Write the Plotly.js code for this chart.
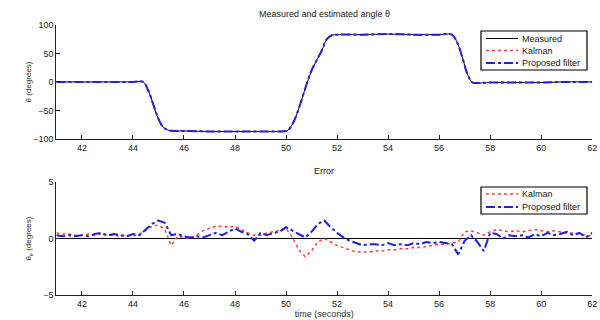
<!DOCTYPE html>
<html><head><meta charset="utf-8">
<script src="https://cdn.plot.ly/plotly-3.0.1.min.js"></script>
<style>html,body{margin:0;padding:0;background:#fff}#c{width:600px;height:320px}</style>
</head><body><div id="c"></div>
<script>
// Top panel: angle (degrees)
const tAngle = [41,42,43,44,44.4,44.6,44.8,45.0,45.2,45.4,45.6,46,47,48,49,50,50.1,50.3,50.55,50.8,51.0,51.2,51.4,51.6,51.8,52,53,54,55,56,56.5,56.7,56.9,57.1,57.3,57.5,58,59,60,61,62];
const angleMeasured = [0,0,0,0,0,-15,-40,-65,-80,-85,-86,-86,-87,-87,-87,-86,-84,-70,-40,-5,20,38,55,75,82,83,83,84,83,83,83,70,45,15,-1,-2,-1,-1,-1,0,0];
const angleKalman   = [0,0,0,0,0,-15,-40,-65,-80,-85,-86,-86,-87,-87,-87,-86,-84,-70,-40,-5,20,38,55,75,82,83,83,84,83,83,83,70,45,15,-1,-2,-1,-1,-1,0,0];
const angleProposed = [0,0,0,0,0,-15,-40,-65,-80,-85,-86,-86,-87,-87,-87,-86,-84,-70,-40,-5,20,38,55,75,82,83,83,84,83,83,83,70,45,15,-1,-2,-1,-1,-1,0,0];

// Bottom panel: error (degrees), sampled every 0.25 s from 41 to 62
const tError = [41,41.25,41.5,41.75,42,42.25,42.5,42.75,43,43.25,43.5,43.75,44,44.25,44.5,44.75,45,45.25,45.5,45.75,46,46.25,46.5,46.75,47,47.25,47.5,47.75,48,48.25,48.5,48.75,49,49.25,49.5,49.75,50,50.25,50.5,50.75,51,51.25,51.5,51.75,52,52.25,52.5,52.75,53,53.25,53.5,53.75,54,54.25,54.5,54.75,55,55.25,55.5,55.75,56,56.25,56.5,56.75,57,57.25,57.5,57.75,58,58.25,58.5,58.75,59,59.25,59.5,59.75,60,60.25,60.5,60.75,61,61.25,61.5,61.75,62];
const errKalman = [0.5,0.4,0.4,0.3,0.3,0.4,0.3,0.4,0.3,0.3,0.2,0.3,0.2,0.4,0.7,1.1,1.2,0.8,-0.6,0.2,0.1,0.0,0.3,0.7,0.9,1.1,1.1,1.0,1.1,0.8,0.5,0.3,0.3,0.5,0.6,0.7,0.9,0.1,-1.0,-1.6,-1.1,-0.3,0.0,-0.3,-0.6,-0.8,-1.0,-1.2,-1.2,-1.2,-1.1,-1.1,-1.0,-1.0,-0.9,-0.9,-0.8,-0.8,-0.7,-0.6,-0.5,-0.5,-0.4,-0.3,0.6,0.7,0.5,0.3,0.6,0.8,0.7,0.6,0.7,0.6,0.7,0.8,0.7,0.6,0.7,0.6,0.5,0.5,0.4,0.3,0.2];
const errProposed = [0.3,0.2,0.3,0.2,0.3,0.2,0.4,0.5,0.3,0.4,0.3,0.2,0.4,0.3,0.8,1.3,1.6,1.4,0.3,0.4,0.2,0.1,0.2,0.1,0.3,0.5,0.3,0.6,0.9,0.6,0.4,-0.2,0.5,0.3,0.5,0.6,1.0,0.7,0.4,0.1,0.6,1.3,1.6,1.0,0.5,0.1,-0.2,-0.4,-0.6,-0.5,-0.5,-0.6,-0.4,-0.6,-0.5,-0.6,-0.4,-0.5,-0.3,-0.4,-0.3,-0.4,-0.5,-1.4,-0.2,0.3,-0.3,-1.1,0.5,0.4,0.0,0.3,0.2,0.3,0.1,0.4,0.2,0.5,0.3,0.4,0.6,0.3,0.5,0.1,0.5];

const xTicks = [42,44,46,48,50,52,54,56,58,60,62];
const yTicksTop = [-100,-50,0,50,100];
const yTicksBottom = [-5,0,5];
const legendTop = ['Measured','Kalman','Proposed filter'];
const legendBottom = ['Kalman','Proposed filter'];

const FONT = 'Liberation Sans, Arial, sans-serif';
const styleMeasured = {color:'#000', width:1};
const styleKalman = {color:'#ff4040', width:1.5, dash:'dot'};
const styleProposed = {color:'#2020e0', width:2, dash:'dashdot'};

const traces = [
  {x:tAngle, y:angleMeasured, name:legendTop[0], mode:'lines', line:Object.assign({shape:'spline'}, styleMeasured), xaxis:'x', yaxis:'y'},
  {x:tAngle, y:angleKalman, name:legendTop[1], mode:'lines', line:Object.assign({shape:'spline'}, styleKalman), xaxis:'x', yaxis:'y'},
  {x:tAngle, y:angleProposed, name:legendTop[2], mode:'lines', line:Object.assign({shape:'spline'}, styleProposed), xaxis:'x', yaxis:'y'},
  {x:tError, y:errKalman, name:legendBottom[0], mode:'lines', line:styleKalman, xaxis:'x2', yaxis:'y2'},
  {x:tError, y:errProposed, name:legendBottom[1], mode:'lines', line:styleProposed, xaxis:'x2', yaxis:'y2'}
];

// compact MATLAB-style legend boxes (paper coordinates from pixel layout)
const px = v => v/600, py = v => 1 - v/320;
const shapes = [], annotations = [];
function addLegend(box, labels, styles, rowY) {
  shapes.push({type:'rect', xref:'paper', yref:'paper', x0:px(box[0]), x1:px(box[1]), y0:py(box[2]), y1:py(box[3]),
    line:{color:'#000', width:1.2}, fillcolor:'#fff', layer:'above'});
  labels.forEach((lab, i) => {
    shapes.push({type:'line', xref:'paper', yref:'paper', x0:px(box[0]+5), x1:px(box[0]+37), y0:py(rowY[i]), y1:py(rowY[i]),
      line:styles[i], layer:'above'});
    annotations.push({text:lab, xref:'paper', yref:'paper', x:px(box[0]+39), y:py(rowY[i]), xanchor:'left', yanchor:'middle',
      showarrow:false, font:{size:9, color:'#222', family:FONT}});
  });
}
addLegend([481,587,31,70], legendTop, [styleMeasured, styleKalman, styleProposed], [38.5,50.5,63]);
addLegend([481,587,187,214], legendBottom, [styleKalman, styleProposed], [194,207]);
annotations.push(
  {text:'Measured and estimated angle θ', xref:'paper', yref:'paper', x:0.54, y:py(14), xanchor:'center', yanchor:'middle', showarrow:false, font:{size:9, color:'#222'}},
  {text:'Error', xref:'paper', yref:'paper', x:0.54, y:py(171), xanchor:'center', yanchor:'middle', showarrow:false, font:{size:9, color:'#222'}}
);

const axBase = {showline:true, linecolor:'#222', linewidth:1, ticks:'inside', ticklen:4, tickcolor:'#222', showgrid:false, zeroline:false, mirror:false, tickfont:{size:9, color:'#222', family:FONT}};
const layout = {
  width:600, height:320, margin:{l:0,r:0,t:0,b:0}, paper_bgcolor:'#fff', plot_bgcolor:'#fff',
  font:{family:FONT, size:9, color:'#222'}, showlegend:false,
  xaxis: Object.assign({}, axBase, {domain:[0.094,0.987], range:[41,62], tickvals:xTicks, anchor:'y'}),
  yaxis: Object.assign({}, axBase, {domain:[0.566,0.922], range:[-100,100], tickvals:yTicksTop, anchor:'x',
    title:{text:'θ (degrees)', font:{size:8, color:'#333'}, standoff:0}}),
  xaxis2: Object.assign({}, axBase, {domain:[0.094,0.987], range:[41,62], tickvals:xTicks, anchor:'y2',
    title:{text:'time (seconds)', font:{size:9, color:'#333'}, standoff:2}}),
  yaxis2: Object.assign({}, axBase, {domain:[0.078,0.431], range:[-5,5], tickvals:yTicksBottom, anchor:'x2',
    zeroline:true, zerolinecolor:'#000', zerolinewidth:1.5,
    title:{text:'θ<sub>e</sub> (degrees)', font:{size:8, color:'#333'}, standoff:10}}),
  shapes: shapes,
  annotations: annotations
};
Plotly.newPlot('c', traces, layout, {staticPlot:true, displayModeBar:false});
</script>
</body></html>
